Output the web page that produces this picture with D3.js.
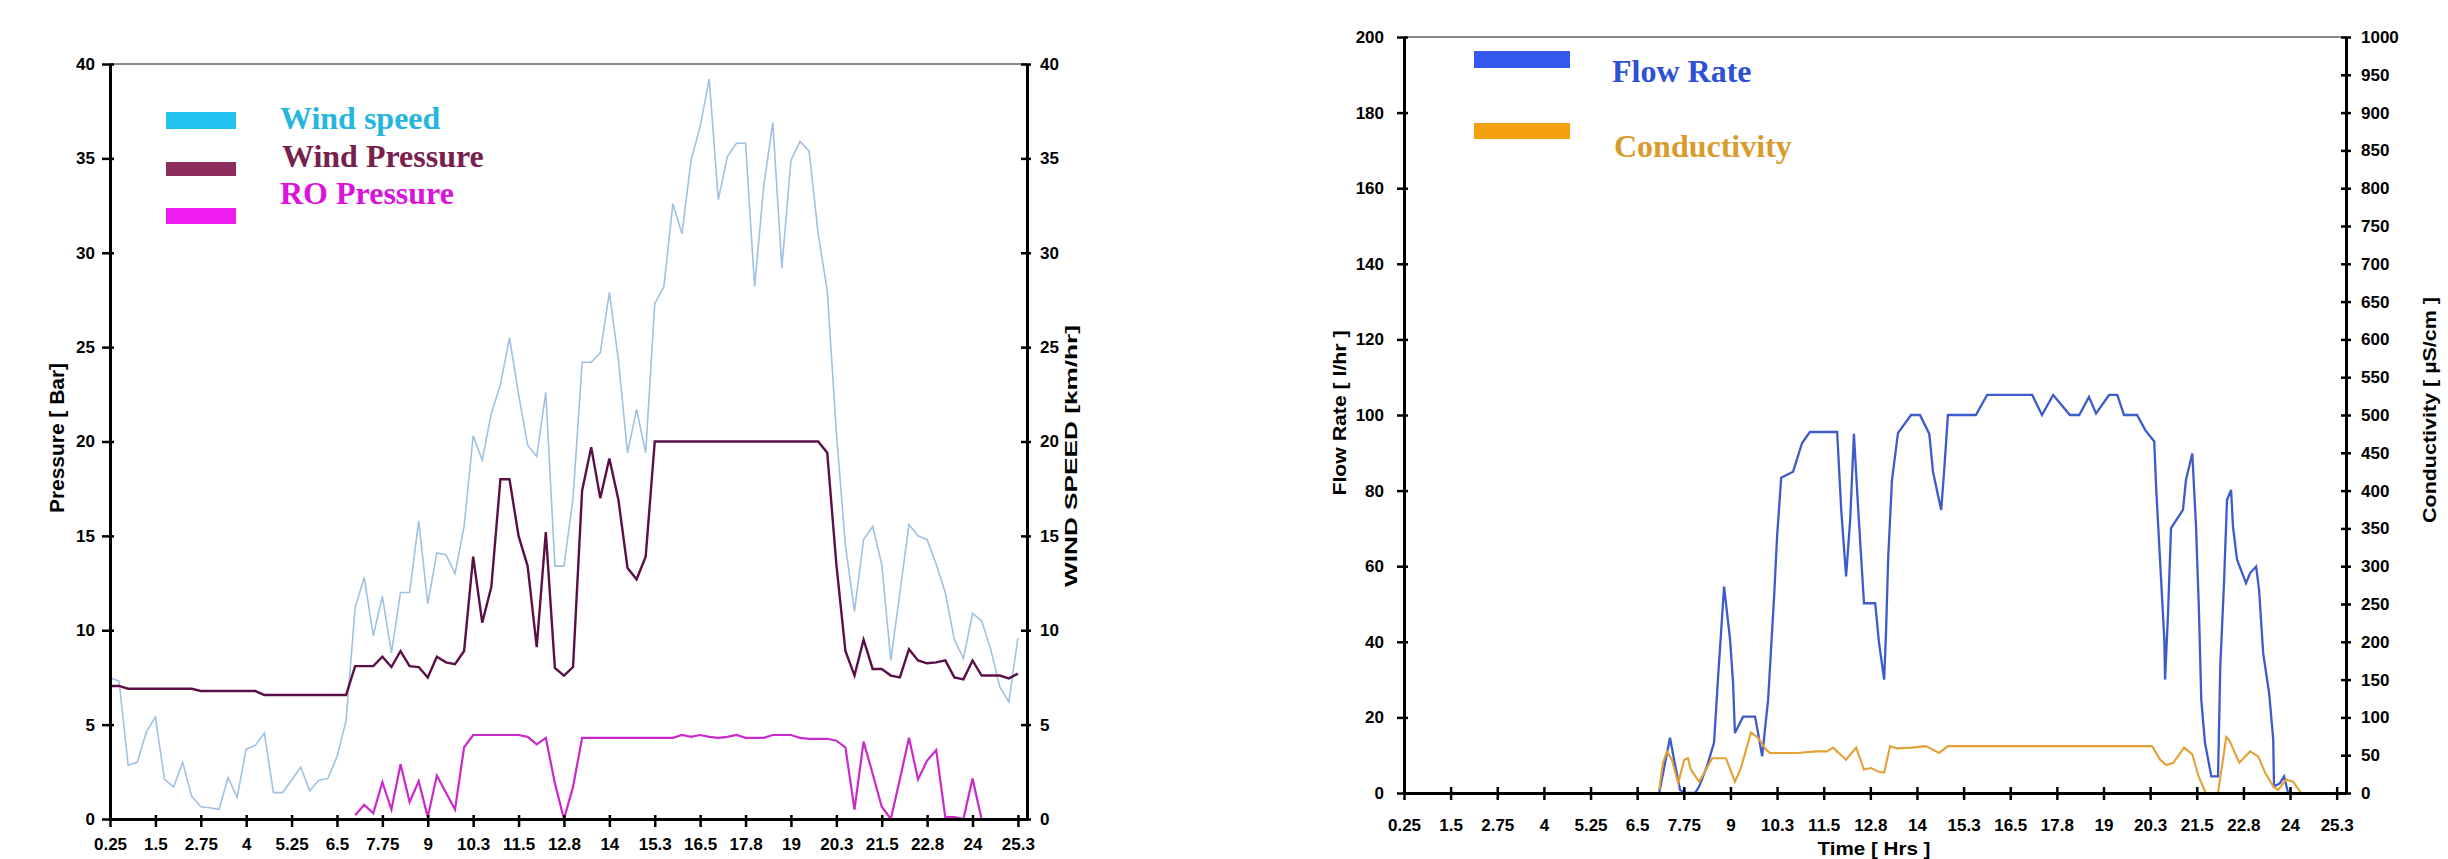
<!DOCTYPE html>
<html>
<head>
<meta charset="utf-8">
<script src="https://cdn.jsdelivr.net/npm/d3@7"></script>
<style>
  html, body { margin: 0; padding: 0; background: #ffffff; }
  svg { display: block; }
  .tick text { font-family: "Liberation Sans", Arial, sans-serif; font-weight: bold; font-size: 17px; fill: #000; }
</style>
</head>
<body>
<script>
// ---------------- DATA ----------------
const xTickValues = [0.25, 1.5, 2.75, 4, 5.25, 6.5, 7.75, 9, 10.25, 11.5, 12.75, 14, 15.25, 16.5, 17.75, 19, 20.25, 21.5, 22.75, 24, 25.25];
const xTickLabels = ["0.25", "1.5", "2.75", "4", "5.25", "6.5", "7.75", "9", "10.3", "11.5", "12.8", "14", "15.3", "16.5", "17.8", "19", "20.3", "21.5", "22.8", "24", "25.3"];

const pressureTicks = [0, 5, 10, 15, 20, 25, 30, 35, 40];
const windTicks = [0, 5, 10, 15, 20, 25, 30, 35, 40];
const flowTicks = [0, 20, 40, 60, 80, 100, 120, 140, 160, 180, 200];
const condTicks = [0, 50, 100, 150, 200, 250, 300, 350, 400, 450, 500, 550, 600, 650, 700, 750, 800, 850, 900, 950, 1000];

// Left chart: samples every quarter hour
const leftTimes = [0.25,0.5,0.75,1,1.25,1.5,1.75,2,2.25,2.5,2.75,3,3.25,3.5,3.75,4,4.25,4.5,4.75,5,
  5.25,5.5,5.75,6,6.25,6.5,6.75,7,7.25,7.5,7.75,8,8.25,8.5,8.75,9,9.25,9.5,9.75,10,
  10.25,10.5,10.75,11,11.25,11.5,11.75,12,12.25,12.5,12.75,13,13.25,13.5,13.75,14,14.25,14.5,14.75,15,
  15.25,15.5,15.75,16,16.25,16.5,16.75,17,17.25,17.5,17.75,18,18.25,18.5,18.75,19,19.25,19.5,19.75,20,
  20.25,20.5,20.75,21,21.25,21.5,21.75,22,22.25,22.5,22.75,23,23.25,23.5,23.75,24,24.25,24.5,24.75,25,25.25];

const windSpeed = [7.5,7.3,2.85,3.0,4.6,5.4,2.1,1.7,3.0,1.2,
  0.65,0.6,0.5,2.2,1.15,3.7,3.9,4.55,1.4,1.4,
  2.05,2.75,1.5,2.05,2.15,3.3,5.2,11.2,12.8,9.7,
  11.8,8.8,12.0,12.0,15.8,11.4,14.1,14.0,13.0,15.5,
  20.3,19.0,21.5,23.0,25.5,22.5,19.8,19.2,22.6,13.4,
  13.4,17.0,24.2,24.2,24.7,27.9,24.3,19.4,21.7,19.4,
  27.3,28.2,32.6,31.0,34.9,36.7,39.2,32.8,35.1,35.8,
  35.8,28.2,33.5,36.9,29.2,34.9,35.9,35.4,31.0,28.0,
  20.5,14.5,11.0,14.8,15.5,13.5,8.4,12.0,15.6,15.0,
  14.8,13.5,12.0,9.5,8.5,10.9,10.5,9.0,7.0,6.2,
  9.6];

const windPressure = [7.05,7.05,6.9,6.9,6.9,6.9,6.9,6.9,6.9,6.9,
  6.78,6.78,6.78,6.78,6.78,6.78,6.78,6.57,6.57,6.57,
  6.57,6.57,6.57,6.57,6.57,6.57,6.57,8.1,8.1,8.1,
  8.6,8.05,8.9,8.1,8.05,7.5,8.6,8.3,8.2,8.9,
  13.9,10.4,12.3,18.0,18.0,15.0,13.4,9.1,15.2,8.0,
  7.6,8.05,17.4,19.7,17.0,19.1,16.9,13.3,12.7,13.9,
  20,20,20,20,20,20,20,20,20,20,
  20,20,20,20,20,20,20,20,20,19.4,
  13.5,8.9,7.6,9.5,7.95,7.95,7.6,7.5,9.0,8.4,
  8.25,8.3,8.4,7.5,7.4,8.4,7.6,7.6,7.6,7.45,
  7.7];

const roPressure = [null,null,null,null,null,null,null,null,null,null,
  null,null,null,null,null,null,null,null,null,null,
  null,null,null,null,null,null,null,0.2,0.75,0.3,
  1.95,0.5,2.9,0.9,2.0,0.1,2.3,1.4,0.5,3.8,
  4.45,4.45,4.45,4.45,4.45,4.45,4.35,3.95,4.3,1.9,
  0.0,1.7,4.3,4.3,4.3,4.3,4.3,4.3,4.3,4.3,
  4.3,4.3,4.3,4.45,4.35,4.45,4.35,4.3,4.35,4.45,
  4.3,4.3,4.3,4.45,4.45,4.45,4.3,4.25,4.25,4.25,
  4.15,3.8,0.5,4.1,2.4,0.65,0.0,2.1,4.3,2.1,
  3.1,3.65,0.1,0.1,0.0,2.15,0.0,null,null,null,
  null];

// Right chart: flow rate (l/hr) and conductivity (uS/cm)
const flowTimes = [7.09,7.38,7.49,7.65,7.81,8.05,8.16,8.37,8.56,8.67,8.83,8.99,9.07,9.12,9.34,9.66,9.74,9.85,10.01,10.17,
  10.25,10.36,10.68,10.92,11.13,11.86,11.97,12.10,12.21,12.31,12.42,12.58,12.88,12.98,13.12,13.17,13.23,13.33,13.49,13.84,
  14.08,14.33,14.43,14.59,14.65,14.73,14.83,15.58,15.88,17.09,17.35,17.65,18.10,18.35,18.61,18.80,19.15,19.37,19.55,19.90,
  20.12,20.36,20.41,20.52,20.63,20.65,20.73,20.81,21.13,21.21,21.38,21.48,21.56,21.62,21.72,21.89,22.07,22.13,22.23,22.31,
  22.42,22.47,22.58,22.82,22.93,23.09,23.17,23.28,23.44,23.55,23.57,23.73,23.84,23.95];
const flowRate = [0,14.6,8.8,0.8,0,0,1.7,7.0,13.3,30.8,54.6,40.6,29.2,15.9,20.2,20.2,15.9,9.7,24.7,51.9,
  67.8,83.4,85.0,92.6,95.5,95.5,74.9,57.3,72.3,95.0,75.8,50.2,50.2,40.0,30.0,42.3,62.5,82.8,95.2,100,
  100,95.0,85.0,77.5,74.9,85.5,100,100,105.3,105.3,100,105.3,100,100,104.8,100.4,105.3,105.3,100,100,
  96,93,81,60.8,40.6,30,47.6,70.1,74.9,82.8,89.8,70.5,47.6,24.7,13.3,4.4,4.4,33.5,55.5,77.5,
  80.2,70.5,61.7,55.5,58.2,59.9,53.8,37.0,26.4,14.1,1.7,2.6,4.4,0];

const condTimes = [7.09,7.19,7.30,7.43,7.60,7.76,7.86,7.94,8.16,8.37,8.51,8.88,9.12,9.28,9.55,9.74,9.96,10.06,10.79,11.30,
  11.59,11.75,12.10,12.37,12.58,12.77,12.98,13.12,13.28,13.47,13.87,14.24,14.59,14.83,20.30,20.52,20.68,20.87,21.16,21.38,
  21.55,21.74,22.07,22.29,22.37,22.64,22.93,23.15,23.33,23.55,23.68,23.90,24.08,24.30];
const conductivity = [4,40,55,44,13,44,46,31,15,33,46,46,15,33,80,73,57,53,53,55,
  55,60,44,60,31,33,28,27,62,59,60,62,53,62,62,44,37,40,60,51,
  22,0,0,74,70,40,55,48,27,9,4,18,15,0];

const leftLegend = ["Wind speed", "Wind Pressure", "RO Pressure"];
const rightLegend = ["Flow Rate", "Conductivity"];

// ---------------- DRAW ----------------
const W = 2448, H = 859;
const svg = d3.select("body").append("svg").attr("width", W).attr("height", H);

function styleAxis(g) {
  g.select(".domain").attr("stroke", "#000").attr("stroke-width", 3);
  g.selectAll(".tick line").attr("stroke", "#000").attr("stroke-width", 2.5);
}
const plain = d3.format("d");

// ===== LEFT CHART =====
const xL = d3.scaleLinear().domain([0.25, 25.5]).range([110, 1027]);
const yL = d3.scaleLinear().domain([0, 40]).range([819, 64]);

svg.append("line").attr("x1", xL.range()[0]).attr("x2", xL.range()[1])
  .attr("y1", yL(40)).attr("y2", yL(40)).attr("stroke", "#8a8a8a").attr("stroke-width", 2);

const lineL = (vals) => d3.line()
  .defined((d, i) => vals[i] !== null)
  .x((d, i) => xL(leftTimes[i]))
  .y((d, i) => yL(vals[i]))(vals);

svg.append("path").attr("d", lineL(windSpeed)).attr("fill", "none")
  .attr("stroke", "#9fc1e3").attr("stroke-width", 1.6);
svg.append("path").attr("d", lineL(roPressure)).attr("fill", "none")
  .attr("stroke", "#c92ac9").attr("stroke-width", 2.2);
svg.append("path").attr("d", lineL(windPressure)).attr("fill", "none")
  .attr("stroke", "#5a0f47").attr("stroke-width", 2.4);

const gLy = svg.append("g").attr("transform", `translate(${xL(0.25)},0)`)
  .call(d3.axisLeft(yL).tickValues(pressureTicks).tickFormat(plain).tickSize(8).tickSizeOuter(0).tickPadding(7));
styleAxis(gLy); gLy.selectAll(".tick line").attr("x2", -8).attr("x1", 4);

const gLy2 = svg.append("g").attr("transform", `translate(${xL(25.5)},0)`)
  .call(d3.axisRight(yL).tickValues(windTicks).tickFormat(plain).tickSize(4).tickSizeOuter(0).tickPadding(9));
styleAxis(gLy2); gLy2.selectAll(".tick line").attr("x1", -6);

const gLx = svg.append("g").attr("transform", `translate(0,${yL(0)})`)
  .call(d3.axisBottom(xL).tickValues(xTickValues).tickFormat((d, i) => xTickLabels[i]).tickSize(8).tickSizeOuter(0));
styleAxis(gLx); gLx.selectAll(".tick line").attr("y1", -4);
gLx.selectAll(".tick text").attr("y", 31).attr("dy", null);

svg.append("text").attr("transform", `translate(57,438) rotate(-90)`)
  .attr("text-anchor", "middle").attr("dy", "0.35em")
  .attr("textLength", 150).attr("lengthAdjust", "spacingAndGlyphs")
  .style("font-family", "'Liberation Sans', Arial, sans-serif").style("font-weight", "bold").style("font-size", "20px")
  .text("Pressure [ Bar]");
svg.append("text").attr("transform", `translate(1071,456) rotate(-90)`)
  .attr("text-anchor", "middle").attr("dy", "0.35em")
  .attr("textLength", 262).attr("lengthAdjust", "spacingAndGlyphs")
  .style("font-family", "'Liberation Sans', Arial, sans-serif").style("font-weight", "bold").style("font-size", "16px")
  .text("WIND SPEED [km/hr]");

const legL = [
  {rect: [166, 112, 70, 17], swatch: "#22c3ee", text: "#25b6df", tx: 280, ty: 129},
  {rect: [166, 162, 70, 14], swatch: "#8b2c5d", text: "#77204e", tx: 282, ty: 167},
  {rect: [166, 208, 70, 16], swatch: "#ee1cee", text: "#dc12dc", tx: 280, ty: 204}
];
legL.forEach((L, i) => {
  svg.append("rect").attr("x", L.rect[0]).attr("y", L.rect[1]).attr("width", L.rect[2]).attr("height", L.rect[3]).attr("fill", L.swatch);
  svg.append("text").attr("x", L.tx).attr("y", L.ty).attr("fill", L.text)
    .style("font-family", "'Liberation Serif', 'Times New Roman', serif").style("font-weight", "bold").style("font-size", "32px")
    .text(leftLegend[i]);
});

// ===== RIGHT CHART =====
const xR = d3.scaleLinear().domain([0.25, 25.5]).range([1404, 2346]);
const yR = d3.scaleLinear().domain([0, 200]).range([793, 37]);
const yC = d3.scaleLinear().domain([0, 1000]).range([793, 37]);

svg.append("line").attr("x1", xR.range()[0]).attr("x2", xR.range()[1])
  .attr("y1", yR(200)).attr("y2", yR(200)).attr("stroke", "#8a8a8a").attr("stroke-width", 2);

const flowLine = d3.line().x((d, i) => xR(flowTimes[i])).y(d => yR(d));
const condLine = d3.line().x((d, i) => xR(condTimes[i])).y(d => yC(d));

svg.append("path").attr("d", flowLine(flowRate)).attr("fill", "none")
  .attr("stroke", "#3d5bcb").attr("stroke-width", 2.3);
svg.append("path").attr("d", condLine(conductivity)).attr("fill", "none")
  .attr("stroke", "#e3a136").attr("stroke-width", 2.1);

const gRy = svg.append("g").attr("transform", `translate(${xR(0.25)},0)`)
  .call(d3.axisLeft(yR).tickValues(flowTicks).tickFormat(plain).tickSize(7).tickSizeOuter(0).tickPadding(13));
styleAxis(gRy); gRy.selectAll(".tick line").attr("x1", 4);

const gRy2 = svg.append("g").attr("transform", `translate(${xR(25.5)},0)`)
  .call(d3.axisRight(yC).tickValues(condTicks).tickFormat(plain).tickSize(5).tickSizeOuter(0).tickPadding(10));
styleAxis(gRy2); gRy2.selectAll(".tick line").attr("x1", -5);

const gRx = svg.append("g").attr("transform", `translate(0,${yR(0)})`)
  .call(d3.axisBottom(xR).tickValues(xTickValues).tickFormat((d, i) => xTickLabels[i]).tickSize(7).tickSizeOuter(0));
styleAxis(gRx); gRx.selectAll(".tick line").attr("y1", -6);
gRx.selectAll(".tick text").attr("y", 38).attr("dy", null);

svg.append("text").attr("transform", `translate(1339,413) rotate(-90)`)
  .attr("text-anchor", "middle").attr("dy", "0.35em")
  .attr("textLength", 165).attr("lengthAdjust", "spacingAndGlyphs")
  .style("font-family", "'Liberation Sans', Arial, sans-serif").style("font-weight", "bold").style("font-size", "19px")
  .text("Flow Rate [ l/hr ]");
svg.append("text").attr("transform", `translate(2430,410) rotate(-90)`)
  .attr("text-anchor", "middle").attr("dy", "0.35em")
  .attr("textLength", 226).attr("lengthAdjust", "spacingAndGlyphs")
  .style("font-family", "'Liberation Sans', Arial, sans-serif").style("font-weight", "bold").style("font-size", "18px")
  .text("Conductivity [ µS/cm ]");
svg.append("text").attr("x", 1874).attr("y", 855).attr("text-anchor", "middle")
  .attr("textLength", 113).attr("lengthAdjust", "spacingAndGlyphs")
  .style("font-family", "'Liberation Sans', Arial, sans-serif").style("font-weight", "bold").style("font-size", "19px")
  .text("Time [ Hrs ]");

const legR = [
  {rect: [1474, 51, 96, 17], swatch: "#3459ee", text: "#2d51d6", tx: 1612, ty: 82},
  {rect: [1474, 123, 96, 16], swatch: "#f59f0f", text: "#d99b2c", tx: 1614, ty: 157}
];
legR.forEach((L, i) => {
  svg.append("rect").attr("x", L.rect[0]).attr("y", L.rect[1]).attr("width", L.rect[2]).attr("height", L.rect[3]).attr("fill", L.swatch);
  svg.append("text").attr("x", L.tx).attr("y", L.ty).attr("fill", L.text)
    .style("font-family", "'Liberation Serif', 'Times New Roman', serif").style("font-weight", "bold").style("font-size", "32px")
    .text(rightLegend[i]);
});
</script>
</body>
</html>
